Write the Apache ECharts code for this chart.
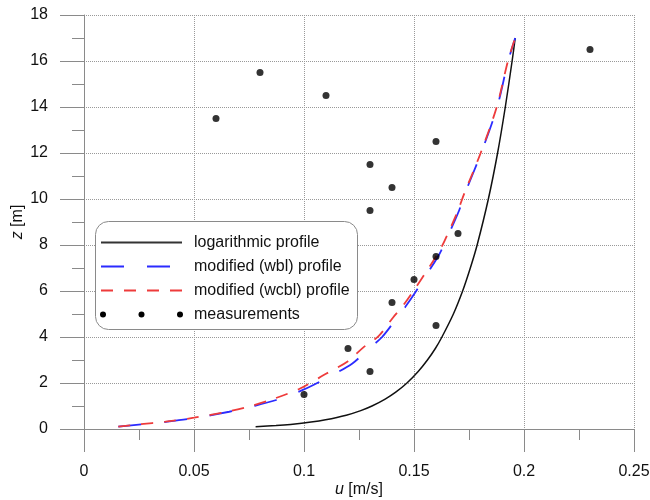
<!DOCTYPE html>
<html>
<head>
<meta charset="utf-8">
<script src="https://cdn.jsdelivr.net/npm/echarts@6/dist/echarts.min.js"></script>
<style>html,body{margin:0;padding:0;background:#fff}#c{width:650px;height:500px}</style>
</head>
<body>
<div id="c"></div>
<script>
// ---- data ----
var xTicks = [0, 0.05, 0.1, 0.15, 0.2, 0.25];
var yTicks = [0, 2, 4, 6, 8, 10, 12, 14, 16, 18];

var logU = [0.0780, 0.0873, 0.0939, 0.1032, 0.1098, 0.1192, 0.1258, 0.1309, 0.1369, 0.1417, 0.1468, 0.1519, 0.1561, 0.1597, 0.1627, 0.1679, 0.1721, 0.1756, 0.1787, 0.1838, 0.1880, 0.1915, 0.1946, 0.1960];
var logZ = [0.1, 0.15, 0.2, 0.3, 0.4, 0.6, 0.8, 1.0, 1.3, 1.6, 2.0, 2.5, 3.0, 3.5, 4.0, 5.0, 6.0, 7.0, 8.0, 10, 12, 14, 16, 17];

var wblU = [0.0156, 0.026, 0.038, 0.05, 0.066, 0.076, 0.087, 0.1, 0.112, 0.122, 0.129, 0.1355, 0.142, 0.146, 0.151, 0.157, 0.1615, 0.1645, 0.1705, 0.173, 0.1805, 0.1878, 0.1928, 0.196];
var wblZ = [0.1, 0.2, 0.32, 0.47, 0.75, 0.97, 1.25, 1.72, 2.3, 2.85, 3.45, 4.0, 4.8, 5.3, 6.0, 6.9, 7.6, 8.2, 9.5, 10.2, 12, 14, 16, 17];

var wcblU = [0.0156, 0.025, 0.037, 0.05, 0.065, 0.075, 0.085, 0.098, 0.11, 0.12, 0.127, 0.134, 0.1405, 0.1445, 0.1497, 0.156, 0.161, 0.164, 0.17, 0.1727, 0.1803, 0.1876, 0.1927, 0.196];
var wcblZ = [0.1, 0.2, 0.32, 0.49, 0.75, 0.98, 1.27, 1.75, 2.4, 2.95, 3.55, 4.05, 4.85, 5.3, 6.0, 6.9, 7.65, 8.2, 9.5, 10.2, 12, 14, 16, 17];

var measU = [0.06, 0.08, 0.11, 0.23, 0.16, 0.13, 0.14, 0.13, 0.17, 0.16, 0.15, 0.14, 0.16, 0.12, 0.13, 0.10];
var measZ = [13.5, 15.5, 14.5, 16.5, 12.5, 11.5, 10.5, 9.5, 8.5, 7.5, 6.5, 5.5, 4.5, 3.5, 2.5, 1.5];

var legendNames = ['logarithmic profile', 'modified (wbl) profile', 'modified (wcbl) profile', 'measurements'];

function pairs(a, b) { return a.map(function (v, i) { return [v, b[i]]; }); }

var FONT = '"Liberation Sans", Arial, sans-serif';
var axisCol = '#8a8a8a';
var textCol = '#111';

var chart = echarts.init(document.getElementById('c'), null, { renderer: 'canvas' });

// legend box geometry
var LX = 95.5, LY = 221.5, LW = 262, LH = 108;
var rowsY = [242.5, 266.5, 290.5, 314.5];
var sx1 = 101, sx2 = 182, tx = 194;

var graphics = [
  { type: 'rect', z: 100, shape: { x: LX, y: LY, width: LW, height: LH, r: 13 },
    style: { fill: '#fff', stroke: '#8a8a8a', lineWidth: 1 } },
  { type: 'line', z: 101, shape: { x1: sx1, y1: rowsY[0], x2: sx2, y2: rowsY[0] },
    style: { stroke: '#333', lineWidth: 2 } },
  { type: 'line', z: 101, shape: { x1: sx1, y1: rowsY[1], x2: sx2, y2: rowsY[1] },
    style: { stroke: '#2b2bff', lineWidth: 2, lineDash: [23, 23] } },
  { type: 'line', z: 101, shape: { x1: sx1, y1: rowsY[2], x2: sx2, y2: rowsY[2] },
    style: { stroke: '#ee3b3b', lineWidth: 2, lineDash: [12, 11] } }
];
[103, 141.5, 180].forEach(function (cx) {
  graphics.push({ type: 'circle', z: 101, shape: { cx: cx, cy: rowsY[3], r: 3 }, style: { fill: '#000' } });
});
legendNames.forEach(function (n, i) {
  graphics.push({ type: 'text', z: 101, x: tx, y: rowsY[i],
    style: { text: n, font: '16px ' + FONT, fill: textCol, verticalAlign: 'middle', align: 'left' } });
});

var option = {
  animation: false,
  backgroundColor: '#fff',
  grid: { left: 84, right: 16, top: 15, bottom: 71, containLabel: false, outerBoundsMode: 'none' },
  xAxis: {
    type: 'value', min: xTicks[0], max: xTicks[xTicks.length - 1], interval: 0.05,
    name: '{i|u} [m/s]', nameLocation: 'middle', nameGap: 53, nameMoveOverlap: false,
    nameTextStyle: { fontSize: 16, fontFamily: FONT, color: textCol,
      rich: { i: { fontStyle: 'italic', fontSize: 16, fontFamily: FONT, color: textCol } } },
    axisLine: { show: true, onZero: false, lineStyle: { color: axisCol, width: 1 } },
    axisTick: { show: true, inside: false, length: 23, lineStyle: { color: axisCol, width: 1 } },
    minorTick: { show: true, splitNumber: 2, length: 11, lineStyle: { color: axisCol, width: 1 } },
    axisLabel: { fontSize: 16, fontFamily: FONT, color: textCol, margin: 35,
      formatter: function (v) { return String(+v.toFixed(2)); } },
    splitLine: { show: true, lineStyle: { type: 'dotted', color: '#999', width: 1 } }
  },
  yAxis: {
    type: 'value', min: yTicks[0], max: yTicks[yTicks.length - 1], interval: 2,
    name: '{i|z} [m]', nameLocation: 'middle', nameGap: 58, nameRotate: 90, nameMoveOverlap: false,
    nameTextStyle: { fontSize: 16, fontFamily: FONT, color: textCol,
      rich: { i: { fontStyle: 'italic', fontSize: 16, fontFamily: FONT, color: textCol } } },
    axisLine: { show: true, onZero: false, lineStyle: { color: axisCol, width: 1 } },
    axisTick: { show: true, inside: false, length: 24, lineStyle: { color: axisCol, width: 1 } },
    minorTick: { show: true, splitNumber: 2, length: 12, lineStyle: { color: axisCol, width: 1 } },
    axisLabel: { fontSize: 16, fontFamily: FONT, color: textCol, margin: 36 },
    splitLine: { show: true, lineStyle: { type: 'dotted', color: '#999', width: 1 } }
  },
  graphic: graphics,
  series: [
    { name: legendNames[0], type: 'line', data: pairs(logU, logZ), showSymbol: false, symbol: 'none',
      smooth: 0.3, lineStyle: { color: '#111', width: 1.5 }, z: 3 },
    { name: legendNames[1], type: 'line', data: pairs(wblU, wblZ), showSymbol: false, symbol: 'none',
      smooth: 0.3, lineStyle: { color: '#2b2bff', width: 1.8, type: [23, 23] }, z: 4 },
    { name: legendNames[2], type: 'line', data: pairs(wcblU, wcblZ), showSymbol: false, symbol: 'none',
      smooth: 0.3, lineStyle: { color: '#ee3b3b', width: 1.8, type: [12, 11] }, z: 5 },
    { name: legendNames[3], type: 'scatter', data: pairs(measU, measZ), symbol: 'circle', symbolSize: 7,
      itemStyle: { color: '#000' }, z: 6 }
  ]
};
chart.setOption(option);
</script>
</body>
</html>
